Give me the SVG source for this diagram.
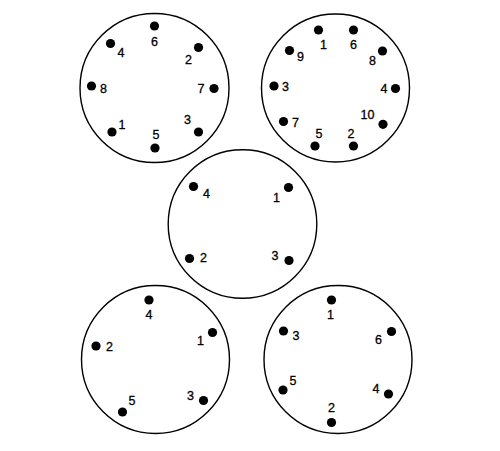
<svg xmlns="http://www.w3.org/2000/svg" width="500" height="451" viewBox="0 0 500 451">
<style>
.ring{fill:none;stroke:#000;stroke-width:1.4}
.pin{fill:#000}
text{font-family:"Liberation Sans",Arial,sans-serif;font-size:12.5px;fill:#000;stroke:#000;stroke-width:0.3;text-anchor:middle}
</style>
<rect width="500" height="451" fill="#fff"/>
<g id="conn-a">
<circle class="ring" cx="154.5" cy="88" r="74.5"/>
<circle class="pin" cx="154.5" cy="26" r="4.6"/><text x="154.5" y="46.3">6</text>
<circle class="pin" cx="110.5" cy="43.5" r="4.6"/><text x="121" y="56.5">4</text>
<circle class="pin" cx="198.5" cy="47.5" r="4.6"/><text x="188.5" y="63.5">2</text>
<circle class="pin" cx="91.5" cy="86" r="4.6"/><text x="103.5" y="92.5">8</text>
<circle class="pin" cx="214" cy="88.5" r="4.6"/><text x="201" y="92.5">7</text>
<circle class="pin" cx="112" cy="132" r="4.6"/><text x="122" y="129">1</text>
<circle class="pin" cx="155" cy="148" r="4.6"/><text x="156" y="139">5</text>
<circle class="pin" cx="198.5" cy="132" r="4.6"/><text x="187.5" y="124">3</text>
</g>
<g id="conn-b">
<circle class="ring" cx="335.5" cy="88" r="74"/>
<circle class="pin" cx="318.5" cy="30" r="4.6"/><text x="323.5" y="48.5">1</text>
<circle class="pin" cx="353.5" cy="30" r="4.6"/><text x="353.5" y="49">6</text>
<circle class="pin" cx="289.5" cy="50.5" r="4.6"/><text x="300.5" y="60.5">9</text>
<circle class="pin" cx="382.5" cy="51" r="4.6"/><text x="372.5" y="64.5">8</text>
<circle class="pin" cx="274" cy="86" r="4.6"/><text x="285.5" y="90.5">3</text>
<circle class="pin" cx="395.5" cy="88.5" r="4.6"/><text x="384" y="92.5">4</text>
<circle class="pin" cx="283.5" cy="121.5" r="4.6"/><text x="295.5" y="126.5">7</text>
<circle class="pin" cx="383" cy="124.3" r="4.6"/><text x="367.5" y="119">10</text>
<circle class="pin" cx="315" cy="146" r="4.6"/><text x="319" y="137.5">5</text>
<circle class="pin" cx="353.5" cy="146" r="4.6"/><text x="351" y="137.5">2</text>
</g>
<g id="conn-c">
<circle class="ring" cx="242.5" cy="224" r="74.3"/>
<circle class="pin" cx="193.5" cy="186.5" r="4.6"/><text x="206.5" y="197.5">4</text>
<circle class="pin" cx="288.5" cy="187.5" r="4.6"/><text x="276.5" y="201.5">1</text>
<circle class="pin" cx="189.5" cy="258.5" r="4.6"/><text x="203.5" y="261.5">2</text>
<circle class="pin" cx="289" cy="260.5" r="4.6"/><text x="275" y="260">3</text>
</g>
<g id="conn-d">
<circle class="ring" cx="155.5" cy="359.5" r="74"/>
<circle class="pin" cx="149" cy="300" r="4.6"/><text x="149" y="319">4</text>
<circle class="pin" cx="212.5" cy="332.5" r="4.6"/><text x="200.5" y="344.5">1</text>
<circle class="pin" cx="96" cy="346" r="4.6"/><text x="109.5" y="350.5">2</text>
<circle class="pin" cx="203.5" cy="400.5" r="4.6"/><text x="190.5" y="400">3</text>
<circle class="pin" cx="122.5" cy="412" r="4.6"/><text x="132" y="404.5">5</text>
</g>
<g id="conn-e">
<circle class="ring" cx="338" cy="359.5" r="74"/>
<circle class="pin" cx="331.5" cy="300" r="4.6"/><text x="330.5" y="319">1</text>
<circle class="pin" cx="283.5" cy="331" r="4.6"/><text x="296" y="340">3</text>
<circle class="pin" cx="391.5" cy="331.5" r="4.6"/><text x="378.5" y="344">6</text>
<circle class="pin" cx="283" cy="390" r="4.6"/><text x="293" y="384.5">5</text>
<circle class="pin" cx="388.5" cy="394" r="4.6"/><text x="376" y="393">4</text>
<circle class="pin" cx="331.5" cy="422.5" r="4.6"/><text x="331.5" y="411.5">2</text>
</g>
</svg>
